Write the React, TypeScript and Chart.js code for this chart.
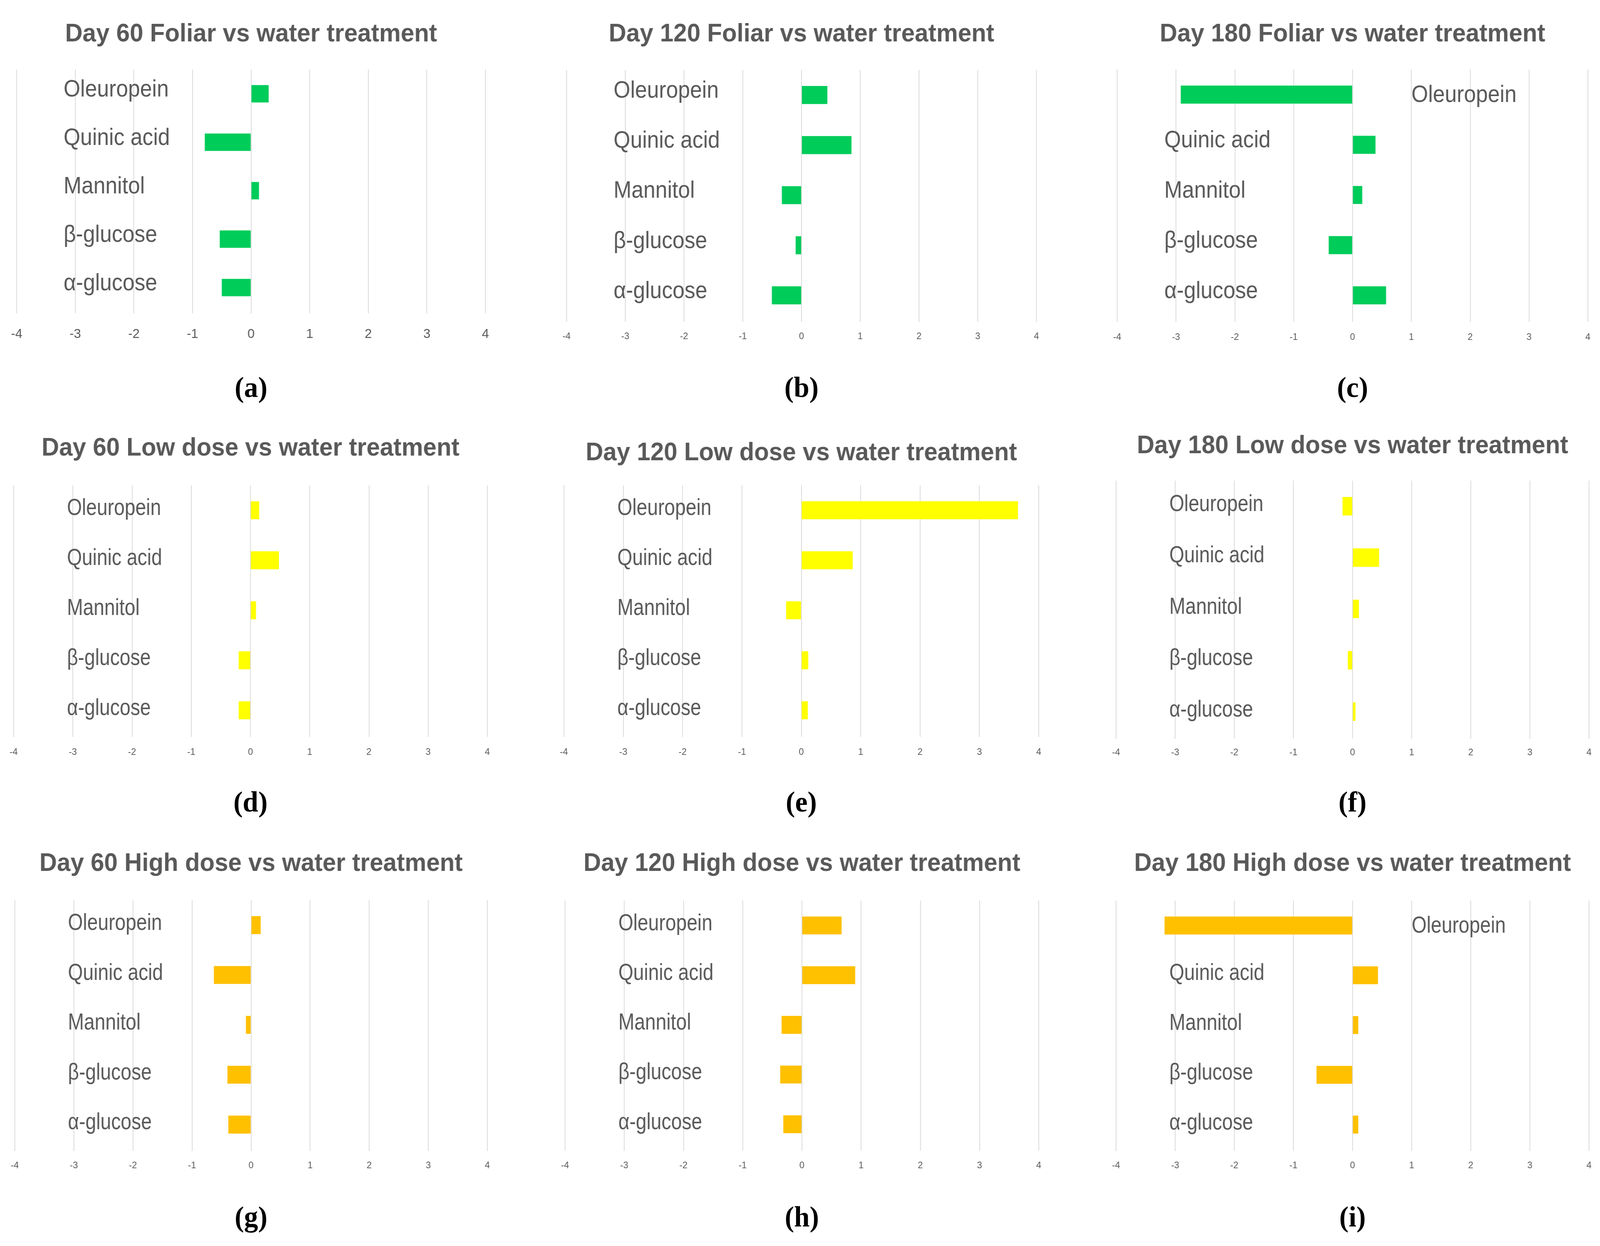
import React, { useEffect, useRef } from "react";
import { Chart, registerables } from "chart.js";

Chart.register(...registerables);

// ---------- data ----------
const categories = ["Oleuropein", "Quinic acid", "Mannitol", "β-glucose", "α-glucose"];
const xTicksMin = -4;
const xTicksMax = 4;

const day60Foliar = [0.3, -0.79, 0.135, -0.535, -0.5];
const day120Foliar = [0.44, 0.85, -0.335, -0.1, -0.505];
const day180Foliar = [-2.92, 0.39, 0.165, -0.405, 0.57];

const day60Low = [0.146, 0.48, 0.093, -0.2, -0.2];
const day120Low = [3.65, 0.866, -0.256, 0.116, 0.11];
const day180Low = [-0.17, 0.449, 0.108, -0.08, 0.05];

const day60High = [0.163, -0.63, -0.088, -0.4, -0.385];
const day120High = [0.67, 0.9, -0.343, -0.367, -0.314];
const day180High = [-3.18, 0.43, 0.097, -0.61, 0.097];

const titles = [
  "Day 60 Foliar vs water treatment",
  "Day 120 Foliar vs water treatment",
  "Day 180 Foliar vs water treatment",
  "Day 60 Low dose vs water treatment",
  "Day 120 Low dose vs water treatment",
  "Day 180 Low dose vs water treatment",
  "Day 60 High dose vs water treatment",
  "Day 120 High dose vs water treatment",
  "Day 180 High dose vs water treatment",
];
const letters = ["(a)", "(b)", "(c)", "(d)", "(e)", "(f)", "(g)", "(h)", "(i)"];
const seriesList = [
  day60Foliar, day120Foliar, day180Foliar,
  day60Low, day120Low, day180Low,
  day60High, day120High, day180High,
];

// ---------- styles / layout ----------
const GREEN = "#00CC5A";
const YELLOW = "#FFFF00";
const ORANGE = "#FFC000";
const TEXT = "#595959";
const GRID = "#D9D9D9";
const FONT = "'Liberation Sans', Arial, sans-serif";
const SERIF = "'Liberation Serif', 'DejaVu Serif', serif";
const colors = [GREEN, GREEN, GREEN, YELLOW, YELLOW, YELLOW, ORANGE, ORANGE, ORANGE];

type Layout = {
  left: number; right: number; top: number; bottom: number;
  titleY: number; tickY: number; letterY: number;
  tickSize: number; labelSize: number; labelSquash: number; titleSize: number;
  labelX: number; labelDy: number;
};

const layouts: Layout[] = [
  { left: 44, right: 1281, top: 178, bottom: 796, titleY: 88, tickY: 854, letterY: 991, tickSize: 34, labelSize: 61, labelSquash: 0.93, titleSize: 64, labelX: -3.2, labelDy: -10 },
  { left: 1495, right: 2735, top: 179, bottom: 818, titleY: 88, tickY: 859, letterY: 991, tickSize: 24, labelSize: 61, labelSquash: 0.93, titleSize: 64, labelX: -3.2, labelDy: -10 },
  { left: 2948, right: 4190, top: 178, bottom: 818, titleY: 88, tickY: 861, letterY: 991, tickSize: 24, labelSize: 61, labelSquash: 0.93, titleSize: 64, labelX: -3.2, labelDy: -10 },
  { left: 36, right: 1286, top: 1242, bottom: 1880, titleY: 1148, tickY: 1923, letterY: 2052, tickSize: 24, labelSize: 59, labelSquash: 0.86, titleSize: 64, labelX: -3.1, labelDy: -4 },
  { left: 1488, right: 2741, top: 1242, bottom: 1880, titleY: 1160, tickY: 1923, letterY: 2052, tickSize: 24, labelSize: 59, labelSquash: 0.86, titleSize: 64, labelX: -3.1, labelDy: -4 },
  { left: 2945, right: 4193, top: 1230, bottom: 1885, titleY: 1142, tickY: 1924, letterY: 2052, tickSize: 24, labelSize: 59, labelSquash: 0.86, titleSize: 64, labelX: -3.1, labelDy: -4 },
  { left: 39, right: 1286, top: 2304, bottom: 2940, titleY: 2211, tickY: 2981, letterY: 3114, tickSize: 24, labelSize: 59, labelSquash: 0.86, titleSize: 64, labelX: -3.1, labelDy: -4 },
  { left: 1491, right: 2741, top: 2305, bottom: 2939, titleY: 2211, tickY: 2981, letterY: 3114, tickSize: 24, labelSize: 59, labelSquash: 0.86, titleSize: 64, labelX: -3.1, labelDy: -4 },
  { left: 2945, right: 4193, top: 2305, bottom: 2940, titleY: 2211, tickY: 2981, letterY: 3114, tickSize: 24, labelSize: 59, labelSquash: 0.86, titleSize: 64, labelX: -3.1, labelDy: -4 },
];

const M = 80; // horizontal canvas margin (larger than any tick-label overflow)
const TICK_LEN = 4;

const categoryLabelPlugin = {
  id: "categoryLabels",
  afterDatasetsDraw(chart: any, _args: any, opts: any) {
    const { ctx } = chart;
    const xs = chart.scales.x;
    const ys = chart.scales.y;
    const vals: number[] = chart.data.datasets[0].data;
    chart.data.labels.forEach((lab: string, i: number) => {
      const farLeft = vals[i] < opts.labelX + 1.2;
      const x = xs.getPixelForValue(farLeft ? 1.0 : opts.labelX);
      const y = ys.getPixelForValue(i) + (farLeft ? 2 : opts.dy);
      ctx.save();
      ctx.fillStyle = TEXT;
      ctx.font = `${opts.size}px ${FONT}`;
      ctx.textAlign = "left";
      ctx.textBaseline = "middle";
      ctx.translate(x, y);
      ctx.scale(opts.squash, 1);
      ctx.fillText(lab, 0, 0);
      ctx.restore();
    });
  },
};

function Panel({ idx }: { idx: number }) {
  const ref = useRef<HTMLCanvasElement | null>(null);
  const L = layouts[idx];
  const canvasTop = L.titleY - 60;
  const width = L.right - L.left + 2 * M;
  const tickPad = L.tickY - L.bottom - TICK_LEN - 0.6 * L.tickSize;
  const height = L.bottom - canvasTop + TICK_LEN + 2 * tickPad + 1.2 * L.tickSize + 2;
  const titlePadTop = 60 - 0.6 * L.titleSize;
  const titlePadBottom = L.top - L.titleY - 0.6 * L.titleSize;

  useEffect(() => {
    if (!ref.current) return;
    const chart = new Chart(ref.current, {
      type: "bar",
      data: {
        labels: categories,
        datasets: [
          {
            data: seriesList[idx],
            backgroundColor: colors[idx],
            borderWidth: 0,
            barPercentage: 0.36,
            categoryPercentage: 1,
          },
        ],
      },
      options: {
        indexAxis: "y",
        animation: false,
        responsive: false,
        layout: { padding: { left: M, right: M, top: 0, bottom: 0 } },
        plugins: {
          legend: { display: false },
          tooltip: { enabled: false },
          title: {
            display: true,
            text: titles[idx],
            color: TEXT,
            font: { family: FONT, size: L.titleSize, weight: "bold", lineHeight: 1.2 },
            padding: { top: titlePadTop, bottom: titlePadBottom },
          },
          categoryLabels: { size: L.labelSize, labelX: L.labelX, dy: L.labelDy, squash: L.labelSquash },
        } as any,
        scales: {
          x: {
            min: xTicksMin,
            max: xTicksMax,
            ticks: {
              stepSize: 1,
              color: TEXT,
              padding: tickPad,
              font: { family: FONT, size: L.tickSize, lineHeight: 1.2 },
              maxRotation: 0,
            },
            grid: { color: GRID, lineWidth: 2, drawTicks: true, tickLength: TICK_LEN },
            border: { display: false },
          },
          y: { display: false },
        },
      },
      plugins: [categoryLabelPlugin],
    });
    return () => chart.destroy();
  }, [idx]);

  const cx = (L.left + L.right) / 2;
  return (
    <>
      <canvas
        ref={ref}
        width={width}
        height={height}
        style={{ position: "absolute", left: L.left - M, top: canvasTop, width, height }}
      />
      <div
        style={{
          position: "absolute",
          left: cx - 200,
          top: L.letterY - 50,
          width: 400,
          height: 100,
          lineHeight: "100px",
          textAlign: "center",
          fontFamily: SERIF,
          fontWeight: "bold",
          fontSize: 74,
          color: "#000",
        }}
      >
        {letters[idx]}
      </div>
    </>
  );
}

const PAGE_W = 4222;
const PAGE_H = 3189;

export default function App() {
  const vw = typeof window !== "undefined" ? window.innerWidth : PAGE_W;
  const vh = typeof window !== "undefined" ? window.innerHeight : PAGE_H;
  const sx = vw / PAGE_W;
  const sy = vh / PAGE_H;
  return (
    <div style={{ position: "absolute", left: 0, top: 0, width: vw, height: vh, overflow: "hidden", background: "#fff" }}>
      <div
        style={{
          position: "absolute",
          left: 0,
          top: 0,
          width: PAGE_W,
          height: PAGE_H,
          background: "#fff",
          overflow: "hidden",
          transform: `scale(${sx}, ${sy})`,
          transformOrigin: "0 0",
        }}
      >
        {layouts.map((_, i) => (
          <Panel key={i} idx={i} />
        ))}
      </div>
    </div>
  );
}
